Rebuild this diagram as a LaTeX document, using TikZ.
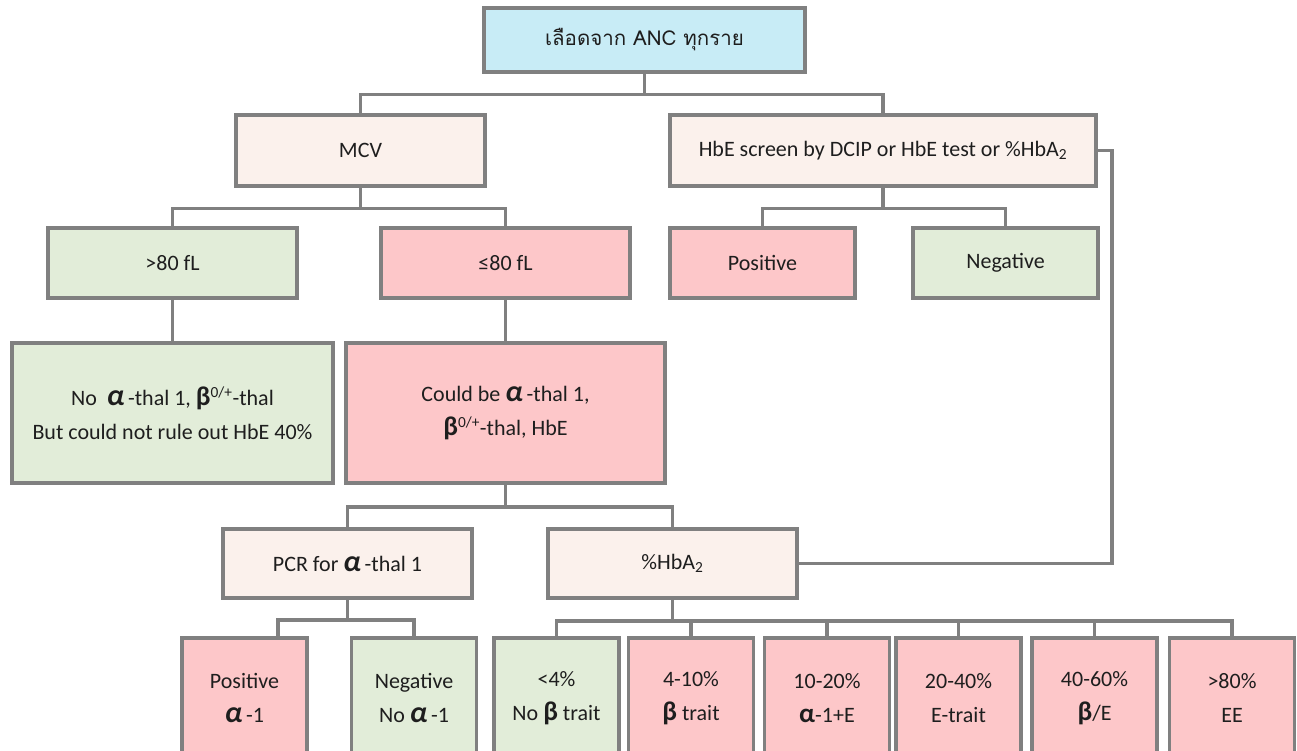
\documentclass[tikz,border=0pt]{standalone}
\usepackage{fontspec}
\setmainfont{Carlito}
\newfontfamily\thaifont[Script=Thai]{Loma}
\definecolor{linegray}{RGB}{128,128,128}
\definecolor{inkgray}{RGB}{30,30,30}
\definecolor{skyfill}{RGB}{200,236,246}
\definecolor{peachfill}{RGB}{251,241,236}
\definecolor{greenfill}{RGB}{226,237,217}
\definecolor{pinkfill}{RGB}{253,199,201}
\newcommand{\alf}{{\fontsize{30}{30}\selectfont\bfseries\itshape α}}
\newcommand{\alfb}{{\fontsize{27}{27}\selectfont\bfseries α}}
\newcommand{\bet}{{\fontsize{27}{27}\selectfont\bfseries β}}
\tikzset{
  box/.style={draw=linegray,line width=3.5pt,align=center,inner sep=0pt,
    text=inkgray,font=\fontsize{22}{34}\selectfont},
  midbox/.style={box,minimum width=249,minimum height=70},
  leafbox/.style={box,minimum width=125,minimum height=120},
  link/.style={draw=linegray,line width=3.5pt},
}
\begin{document}
\begin{tikzpicture}[x=1pt,y=-1pt]
\clip (0,0) rectangle (1297,751);
% top level
\node[box,fill=skyfill,minimum width=321,minimum height=64] (anc) at (644.5,40) {\fontsize{20.5}{34}\thaifont เลือดจาก ANC ทุกราย};
\node[midbox,fill=peachfill,minimum height=71] (mcv) at (360.5,150.5) {MCV};
\node[box,fill=peachfill,minimum width=426,minimum height=71] (hbe) at (883,150.5) {HbE screen by DCIP or HbE test or \%HbA\textsubscript{2}};
% MCV split
\node[midbox,fill=greenfill] (hi) at (172.5,263) {>80 fL};
\node[midbox,fill=pinkfill] (lo) at (505.5,263) {≤80 fL};
\node[box,fill=pinkfill,minimum width=185,minimum height=70] (hpos) at (762.5,263) {Positive};
\node[box,fill=greenfill,minimum width=185,minimum height=70] (hneg) at (1005.5,263) {Negative};
\node[box,fill=greenfill,minimum width=321,minimum height=140] (noa) at (172.5,413) {No \ \alf\,-thal 1, \bet\textsuperscript{0/+}-thal\\But could not rule out HbE 40\%};
\node[box,fill=pinkfill,minimum width=319,minimum height=140] (cbe) at (505.5,413) {Could be \alf\,-thal 1,\\\bet\textsuperscript{0/+}-thal, HbE};
% tests
\node[midbox,fill=peachfill,minimum height=69] (pcr) at (347.5,563.5) {PCR for \alf\,-thal 1};
\node[midbox,fill=peachfill,minimum height=69] (hba) at (672.5,563.5) {\%HbA\textsubscript{2}};
% results
\node[leafbox,fill=pinkfill] (apos) at (244.5,698) {Positive\\\alf\,-1};
\node[leafbox,fill=greenfill] (aneg) at (414,698) {Negative\\No \alf\,-1};
\node[leafbox,fill=greenfill] (b1) at (556.5,698) {<4\%\\No \bet\ trait};
\node[leafbox,fill=pinkfill] (b2) at (691,698) {4-10\%\\\bet\ trait};
\node[leafbox,fill=pinkfill] (b3) at (827,698) {10-20\%\\\alfb-1+E};
\node[leafbox,fill=pinkfill] (b4) at (958.5,698) {20-40\%\\E-trait};
\node[leafbox,fill=pinkfill] (b5) at (1094.5,698) {40-60\%\\\bet/E};
\node[leafbox,fill=pinkfill] (b6) at (1232,698) {>80\%\\EE};
% connectors
\path (anc.south) ++(0,21) coordinate (j1);
\draw[link] (anc.south) -- (j1) -| (mcv.north);
\draw[link] (j1) -| (hbe.north);
\path (mcv.south) ++(0,21) coordinate (j2);
\draw[link] (mcv.south) -- (j2) -| (hi.north);
\draw[link] (j2) -| (lo.north);
\path (hbe.south) ++(0,21) coordinate (j3);
\draw[link] (hbe.south) -- (j3) -| (hpos.north);
\draw[link] (j3) -| (hneg.north);
\draw[link] (hi) -- (noa);
\draw[link] (lo) -- (cbe);
\path (cbe.south) ++(0,22) coordinate (j4);
\draw[link] (cbe.south) -- (j4) -| (pcr.north);
\draw[link] (j4) -| (hba.north);
\draw[link] (hbe.east) -- ++(14,0) |- (hba.east);
\path (pcr.south) ++(0,20) coordinate (j5);
\draw[link] (pcr.south) -- (j5) -| (278,0 |- apos.north);
\draw[link] (j5) -| (aneg.north);
\path (hba.south) ++(0,21) coordinate (j6);
\draw[link] (hba.south) -- (j6);
\foreach \b in {b1,b2,b3,b4,b5,b6}
  \draw[link] (j6) -| (\b.north);
\end{tikzpicture}
\end{document}
